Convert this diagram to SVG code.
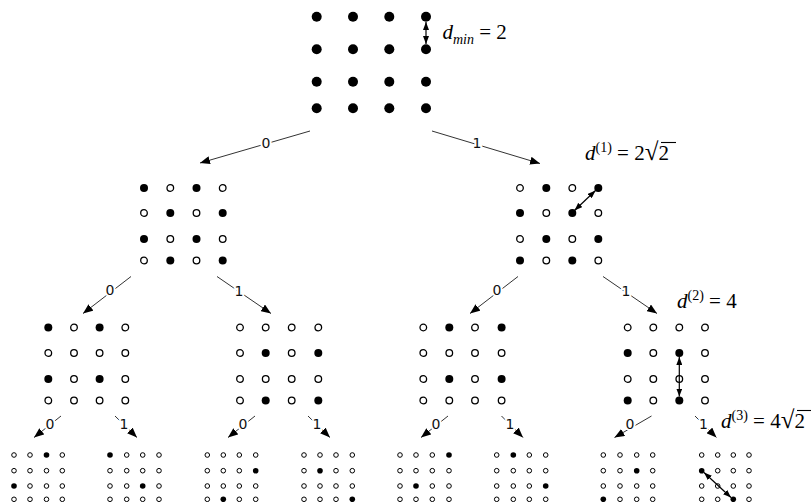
<svg xmlns="http://www.w3.org/2000/svg" xmlns:xlink="http://www.w3.org/1999/xlink" width="811" height="502" viewBox="0 0 811 502">
  <style>
    .f0 { fill: #000; }
    .f1 { fill: #000; }
    .o1 { fill: #fff; stroke: #000; stroke-width: 1.3; }
    .f3 { fill: #000; }
    .o3 { fill: #fff; stroke: #000; stroke-width: 1; }
    .edge { fill: none; stroke: #333; stroke-width: 1; }
    .dist { fill: none; stroke: #000; stroke-width: 1.2; }
    .bit { font-family: "DejaVu Sans", "Liberation Sans", sans-serif; font-size: 14px; fill: #111;
           stroke: #fff; stroke-width: 4; paint-order: stroke; text-anchor: middle; }
    .math { font-family: "Liberation Serif", "Times New Roman", serif; font-size: 21px; fill: #000; }
    .it { font-style: italic; }
    .rad { font-size: 25px; }
    .bar { stroke: #000; stroke-width: 1.1; }
  </style>
  <defs>
    <marker id="head" viewBox="0 0 10 8" refX="10" refY="4" markerWidth="10" markerHeight="8" markerUnits="userSpaceOnUse" orient="auto">
      <path d="M0,0 L10,4 L0,8 Z" fill="#000"/>
    </marker>
    <marker id="dh" viewBox="0 0 8 6" refX="8" refY="3" markerWidth="8" markerHeight="6" markerUnits="userSpaceOnUse" orient="auto-start-reverse">
      <path d="M0,0 L8,3 L0,6 Z" fill="#000"/>
    </marker>
  </defs>

  <!-- level 0: full 16-point constellation -->
  <g id="set-root">
    <circle class="f0" cx="316.7" cy="16.7" r="5"/><circle class="f0" cx="353" cy="16.7" r="5"/><circle class="f0" cx="389.3" cy="16.7" r="5"/><circle class="f0" cx="426" cy="16.7" r="5"/>
    <circle class="f0" cx="316.7" cy="49.3" r="5"/><circle class="f0" cx="353" cy="49.3" r="5"/><circle class="f0" cx="389.3" cy="49.3" r="5"/><circle class="f0" cx="426" cy="49.3" r="5"/>
    <circle class="f0" cx="316.7" cy="81.7" r="5"/><circle class="f0" cx="353" cy="81.7" r="5"/><circle class="f0" cx="389.3" cy="81.7" r="5"/><circle class="f0" cx="426" cy="81.7" r="5"/>
    <circle class="f0" cx="316.7" cy="108.3" r="5"/><circle class="f0" cx="353" cy="108.3" r="5"/><circle class="f0" cx="389.3" cy="108.3" r="5"/><circle class="f0" cx="426" cy="108.3" r="5"/>
  </g>

  <!-- level 1 -->
  <g id="set-0" transform="translate(144,188)">
    <circle class="f1" cx="0" cy="0" r="4"/><circle class="o1" cx="26.3" cy="0" r="3.3"/><circle class="f1" cx="52.5" cy="0" r="4"/><circle class="o1" cx="78.7" cy="0" r="3.3"/>
    <circle class="o1" cx="0" cy="25" r="3.3"/><circle class="f1" cx="26.3" cy="25" r="4"/><circle class="o1" cx="52.5" cy="25" r="3.3"/><circle class="f1" cx="78.7" cy="25" r="4"/>
    <circle class="f1" cx="0" cy="51" r="4"/><circle class="o1" cx="26.3" cy="51" r="3.3"/><circle class="f1" cx="52.5" cy="51" r="4"/><circle class="o1" cx="78.7" cy="51" r="3.3"/>
    <circle class="o1" cx="0" cy="72.5" r="3.3"/><circle class="f1" cx="26.3" cy="72.5" r="4"/><circle class="o1" cx="52.5" cy="72.5" r="3.3"/><circle class="f1" cx="78.7" cy="72.5" r="4"/>
  </g>
  <g id="set-1" transform="translate(520,188)">
    <circle class="o1" cx="0" cy="0" r="3.3"/><circle class="f1" cx="26.3" cy="0" r="4"/><circle class="o1" cx="52.3" cy="0" r="3.3"/><circle class="f1" cx="78.3" cy="0" r="4"/>
    <circle class="f1" cx="0" cy="25" r="4"/><circle class="o1" cx="26.3" cy="25" r="3.3"/><circle class="f1" cx="52.3" cy="25" r="4"/><circle class="o1" cx="78.3" cy="25" r="3.3"/>
    <circle class="o1" cx="0" cy="51" r="3.3"/><circle class="f1" cx="26.3" cy="51" r="4"/><circle class="o1" cx="52.3" cy="51" r="3.3"/><circle class="f1" cx="78.3" cy="51" r="4"/>
    <circle class="f1" cx="0" cy="72.5" r="4"/><circle class="o1" cx="26.3" cy="72.5" r="3.3"/><circle class="f1" cx="52.3" cy="72.5" r="4"/><circle class="o1" cx="78.3" cy="72.5" r="3.3"/>
  </g>

  <!-- level 2 -->
  <g id="set-00" transform="translate(48.3,327.5)">
    <circle class="f1" cx="0" cy="0" r="4"/><circle class="o1" cx="25.7" cy="0" r="3.3"/><circle class="f1" cx="51.3" cy="0" r="4"/><circle class="o1" cx="77" cy="0" r="3.3"/>
    <circle class="o1" cx="0" cy="25.5" r="3.3"/><circle class="o1" cx="25.7" cy="25.5" r="3.3"/><circle class="o1" cx="51.3" cy="25.5" r="3.3"/><circle class="o1" cx="77" cy="25.5" r="3.3"/>
    <circle class="f1" cx="0" cy="51.5" r="4"/><circle class="o1" cx="25.7" cy="51.5" r="3.3"/><circle class="f1" cx="51.3" cy="51.5" r="4"/><circle class="o1" cx="77" cy="51.5" r="3.3"/>
    <circle class="o1" cx="0" cy="73" r="3.3"/><circle class="o1" cx="25.7" cy="73" r="3.3"/><circle class="o1" cx="51.3" cy="73" r="3.3"/><circle class="o1" cx="77" cy="73" r="3.3"/>
  </g>
  <g id="set-01" transform="translate(240,327.5)">
    <circle class="o1" cx="0" cy="0" r="3.3"/><circle class="o1" cx="25.7" cy="0" r="3.3"/><circle class="o1" cx="51.7" cy="0" r="3.3"/><circle class="o1" cx="78.3" cy="0" r="3.3"/>
    <circle class="o1" cx="0" cy="25.5" r="3.3"/><circle class="f1" cx="25.7" cy="25.5" r="4"/><circle class="o1" cx="51.7" cy="25.5" r="3.3"/><circle class="f1" cx="78.3" cy="25.5" r="4"/>
    <circle class="o1" cx="0" cy="51.5" r="3.3"/><circle class="o1" cx="25.7" cy="51.5" r="3.3"/><circle class="o1" cx="51.7" cy="51.5" r="3.3"/><circle class="o1" cx="78.3" cy="51.5" r="3.3"/>
    <circle class="o1" cx="0" cy="73" r="3.3"/><circle class="f1" cx="25.7" cy="73" r="4"/><circle class="o1" cx="51.7" cy="73" r="3.3"/><circle class="f1" cx="78.3" cy="73" r="4"/>
  </g>
  <g id="set-10" transform="translate(423.3,327.5)">
    <circle class="o1" cx="0" cy="0" r="3.3"/><circle class="f1" cx="26" cy="0" r="4"/><circle class="o1" cx="51.7" cy="0" r="3.3"/><circle class="f1" cx="78.3" cy="0" r="4"/>
    <circle class="o1" cx="0" cy="25.5" r="3.3"/><circle class="o1" cx="26" cy="25.5" r="3.3"/><circle class="o1" cx="51.7" cy="25.5" r="3.3"/><circle class="o1" cx="78.3" cy="25.5" r="3.3"/>
    <circle class="o1" cx="0" cy="51.5" r="3.3"/><circle class="f1" cx="26" cy="51.5" r="4"/><circle class="o1" cx="51.7" cy="51.5" r="3.3"/><circle class="f1" cx="78.3" cy="51.5" r="4"/>
    <circle class="o1" cx="0" cy="73" r="3.3"/><circle class="o1" cx="26" cy="73" r="3.3"/><circle class="o1" cx="51.7" cy="73" r="3.3"/><circle class="o1" cx="78.3" cy="73" r="3.3"/>
  </g>
  <g id="set-11" transform="translate(627.7,327.5)">
    <circle class="o1" cx="0" cy="0" r="3.3"/><circle class="o1" cx="25.6" cy="0" r="3.3"/><circle class="o1" cx="51.6" cy="0" r="3.3"/><circle class="o1" cx="77.3" cy="0" r="3.3"/>
    <circle class="f1" cx="0" cy="25.5" r="4"/><circle class="o1" cx="25.6" cy="25.5" r="3.3"/><circle class="f1" cx="51.6" cy="25.5" r="4"/><circle class="o1" cx="77.3" cy="25.5" r="3.3"/>
    <circle class="o1" cx="0" cy="51.5" r="3.3"/><circle class="o1" cx="25.6" cy="51.5" r="3.3"/><circle class="o1" cx="51.6" cy="51.5" r="3.3"/><circle class="o1" cx="77.3" cy="51.5" r="3.3"/>
    <circle class="f1" cx="0" cy="73" r="4"/><circle class="o1" cx="25.6" cy="73" r="3.3"/><circle class="f1" cx="51.6" cy="73" r="4"/><circle class="o1" cx="77.3" cy="73" r="3.3"/>
  </g>

  <!-- level 3 -->
  <g id="set-000" transform="translate(14,455)">
    <circle class="o3" cx="0" cy="0" r="2.3"/><circle class="o3" cx="16" cy="0" r="2.3"/><circle class="f3" cx="32.5" cy="0" r="2.8"/><circle class="o3" cx="48.3" cy="0" r="2.3"/>
    <circle class="o3" cx="0" cy="15.7" r="2.3"/><circle class="o3" cx="16" cy="15.7" r="2.3"/><circle class="o3" cx="32.5" cy="15.7" r="2.3"/><circle class="o3" cx="48.3" cy="15.7" r="2.3"/>
    <circle class="f3" cx="0" cy="31" r="2.8"/><circle class="o3" cx="16" cy="31" r="2.3"/><circle class="o3" cx="32.5" cy="31" r="2.3"/><circle class="o3" cx="48.3" cy="31" r="2.3"/>
    <circle class="o3" cx="0" cy="44.3" r="2.3"/><circle class="o3" cx="16" cy="44.3" r="2.3"/><circle class="o3" cx="32.5" cy="44.3" r="2.3"/><circle class="o3" cx="48.3" cy="44.3" r="2.3"/>
  </g>
  <g id="set-001" transform="translate(110,455)">
    <circle class="f3" cx="0" cy="0" r="2.8"/><circle class="o3" cx="16.7" cy="0" r="2.3"/><circle class="o3" cx="32.7" cy="0" r="2.3"/><circle class="o3" cx="49" cy="0" r="2.3"/>
    <circle class="o3" cx="0" cy="15.7" r="2.3"/><circle class="o3" cx="16.7" cy="15.7" r="2.3"/><circle class="o3" cx="32.7" cy="15.7" r="2.3"/><circle class="o3" cx="49" cy="15.7" r="2.3"/>
    <circle class="o3" cx="0" cy="31" r="2.3"/><circle class="o3" cx="16.7" cy="31" r="2.3"/><circle class="f3" cx="32.7" cy="31" r="2.8"/><circle class="o3" cx="49" cy="31" r="2.3"/>
    <circle class="o3" cx="0" cy="44.3" r="2.3"/><circle class="o3" cx="16.7" cy="44.3" r="2.3"/><circle class="o3" cx="32.7" cy="44.3" r="2.3"/><circle class="o3" cx="49" cy="44.3" r="2.3"/>
  </g>
  <g id="set-010" transform="translate(207.3,455)">
    <circle class="o3" cx="0" cy="0" r="2.3"/><circle class="o3" cx="16" cy="0" r="2.3"/><circle class="o3" cx="32" cy="0" r="2.3"/><circle class="o3" cx="48.4" cy="0" r="2.3"/>
    <circle class="o3" cx="0" cy="15.7" r="2.3"/><circle class="o3" cx="16" cy="15.7" r="2.3"/><circle class="o3" cx="32" cy="15.7" r="2.3"/><circle class="f3" cx="48.4" cy="15.7" r="2.8"/>
    <circle class="o3" cx="0" cy="31" r="2.3"/><circle class="o3" cx="16" cy="31" r="2.3"/><circle class="o3" cx="32" cy="31" r="2.3"/><circle class="o3" cx="48.4" cy="31" r="2.3"/>
    <circle class="o3" cx="0" cy="44.3" r="2.3"/><circle class="f3" cx="16" cy="44.3" r="2.8"/><circle class="o3" cx="32" cy="44.3" r="2.3"/><circle class="o3" cx="48.4" cy="44.3" r="2.3"/>
  </g>
  <g id="set-011" transform="translate(304,455)">
    <circle class="o3" cx="0" cy="0" r="2.3"/><circle class="o3" cx="16" cy="0" r="2.3"/><circle class="o3" cx="32" cy="0" r="2.3"/><circle class="o3" cx="48.3" cy="0" r="2.3"/>
    <circle class="o3" cx="0" cy="15.7" r="2.3"/><circle class="f3" cx="16" cy="15.7" r="2.8"/><circle class="o3" cx="32" cy="15.7" r="2.3"/><circle class="o3" cx="48.3" cy="15.7" r="2.3"/>
    <circle class="o3" cx="0" cy="31" r="2.3"/><circle class="o3" cx="16" cy="31" r="2.3"/><circle class="o3" cx="32" cy="31" r="2.3"/><circle class="o3" cx="48.3" cy="31" r="2.3"/>
    <circle class="o3" cx="0" cy="44.3" r="2.3"/><circle class="o3" cx="16" cy="44.3" r="2.3"/><circle class="o3" cx="32" cy="44.3" r="2.3"/><circle class="f3" cx="48.3" cy="44.3" r="2.8"/>
  </g>
  <g id="set-100" transform="translate(400,455)">
    <circle class="o3" cx="0" cy="0" r="2.3"/><circle class="o3" cx="16" cy="0" r="2.3"/><circle class="o3" cx="32.3" cy="0" r="2.3"/><circle class="f3" cx="49" cy="0" r="2.8"/>
    <circle class="o3" cx="0" cy="15.7" r="2.3"/><circle class="o3" cx="16" cy="15.7" r="2.3"/><circle class="o3" cx="32.3" cy="15.7" r="2.3"/><circle class="o3" cx="49" cy="15.7" r="2.3"/>
    <circle class="o3" cx="0" cy="31" r="2.3"/><circle class="f3" cx="16" cy="31" r="2.8"/><circle class="o3" cx="32.3" cy="31" r="2.3"/><circle class="o3" cx="49" cy="31" r="2.3"/>
    <circle class="o3" cx="0" cy="44.3" r="2.3"/><circle class="o3" cx="16" cy="44.3" r="2.3"/><circle class="o3" cx="32.3" cy="44.3" r="2.3"/><circle class="o3" cx="49" cy="44.3" r="2.3"/>
  </g>
  <g id="set-101" transform="translate(496.7,455)">
    <circle class="o3" cx="0" cy="0" r="2.3"/><circle class="f3" cx="16.6" cy="0" r="2.8"/><circle class="o3" cx="32.6" cy="0" r="2.3"/><circle class="o3" cx="49" cy="0" r="2.3"/>
    <circle class="o3" cx="0" cy="15.7" r="2.3"/><circle class="o3" cx="16.6" cy="15.7" r="2.3"/><circle class="o3" cx="32.6" cy="15.7" r="2.3"/><circle class="o3" cx="49" cy="15.7" r="2.3"/>
    <circle class="o3" cx="0" cy="31" r="2.3"/><circle class="o3" cx="16.6" cy="31" r="2.3"/><circle class="o3" cx="32.6" cy="31" r="2.3"/><circle class="f3" cx="49" cy="31" r="2.8"/>
    <circle class="o3" cx="0" cy="44.3" r="2.3"/><circle class="o3" cx="16.6" cy="44.3" r="2.3"/><circle class="o3" cx="32.6" cy="44.3" r="2.3"/><circle class="o3" cx="49" cy="44.3" r="2.3"/>
  </g>
  <g id="set-110" transform="translate(603.3,455)">
    <circle class="o3" cx="0" cy="0" r="2.3"/><circle class="o3" cx="16.7" cy="0" r="2.3"/><circle class="o3" cx="33.4" cy="0" r="2.3"/><circle class="o3" cx="49.4" cy="0" r="2.3"/>
    <circle class="o3" cx="0" cy="15.7" r="2.3"/><circle class="o3" cx="16.7" cy="15.7" r="2.3"/><circle class="f3" cx="33.4" cy="15.7" r="2.8"/><circle class="o3" cx="49.4" cy="15.7" r="2.3"/>
    <circle class="o3" cx="0" cy="31" r="2.3"/><circle class="o3" cx="16.7" cy="31" r="2.3"/><circle class="o3" cx="33.4" cy="31" r="2.3"/><circle class="o3" cx="49.4" cy="31" r="2.3"/>
    <circle class="f3" cx="0" cy="44.3" r="2.8"/><circle class="o3" cx="16.7" cy="44.3" r="2.3"/><circle class="o3" cx="33.4" cy="44.3" r="2.3"/><circle class="o3" cx="49.4" cy="44.3" r="2.3"/>
  </g>
  <g id="set-111" transform="translate(701.7,455)">
    <circle class="o3" cx="0" cy="0" r="2.3"/><circle class="o3" cx="16" cy="0" r="2.3"/><circle class="o3" cx="31.6" cy="0" r="2.3"/><circle class="o3" cx="47.3" cy="0" r="2.3"/>
    <circle class="f3" cx="0" cy="15.7" r="2.8"/><circle class="o3" cx="16" cy="15.7" r="2.3"/><circle class="o3" cx="31.6" cy="15.7" r="2.3"/><circle class="o3" cx="47.3" cy="15.7" r="2.3"/>
    <circle class="o3" cx="0" cy="31" r="2.3"/><circle class="o3" cx="16" cy="31" r="2.3"/><circle class="o3" cx="31.6" cy="31" r="2.3"/><circle class="o3" cx="47.3" cy="31" r="2.3"/>
    <circle class="o3" cx="0" cy="44.3" r="2.3"/><circle class="o3" cx="16" cy="44.3" r="2.3"/><circle class="f3" cx="31.6" cy="44.3" r="2.8"/><circle class="o3" cx="47.3" cy="44.3" r="2.3"/>
  </g>

  <!-- partition branches with their bit labels -->
  <g id="connectors">
    <line class="edge" x1="310" y1="131" x2="200" y2="163" marker-end="url(#head)"/>
    <line class="edge" x1="432" y1="131" x2="540" y2="163.5" marker-end="url(#head)"/>

    <line class="edge" x1="131" y1="276.5" x2="83" y2="313.5" marker-end="url(#head)"/>
    <line class="edge" x1="217" y1="276.5" x2="271" y2="313.5" marker-end="url(#head)"/>
    <line class="edge" x1="518" y1="276.5" x2="470" y2="313.5" marker-end="url(#head)"/>
    <line class="edge" x1="603" y1="276.5" x2="657" y2="313.5" marker-end="url(#head)"/>

    <line class="edge" x1="61" y1="416" x2="34" y2="437.5" marker-end="url(#head)"/>
    <line class="edge" x1="115" y1="416" x2="137" y2="437.5" marker-end="url(#head)"/>
    <line class="edge" x1="255" y1="416" x2="228" y2="437.5" marker-end="url(#head)"/>
    <line class="edge" x1="308" y1="416" x2="330" y2="437.5" marker-end="url(#head)"/>
    <line class="edge" x1="448" y1="416" x2="421" y2="437.5" marker-end="url(#head)"/>
    <line class="edge" x1="501.5" y1="416" x2="523" y2="437.5" marker-end="url(#head)"/>
    <line class="edge" x1="651.5" y1="416" x2="614.5" y2="437.5" marker-end="url(#head)"/>
    <line class="edge" x1="695" y1="416" x2="716.5" y2="437.5" marker-end="url(#head)"/>

    <text class="bit" x="266" y="148">0</text>
    <text class="bit" x="477" y="148">1</text>
    <text class="bit" x="110" y="295">0</text>
    <text class="bit" x="239" y="296">1</text>
    <text class="bit" x="497" y="295">0</text>
    <text class="bit" x="626" y="296">1</text>
    <text class="bit" x="50" y="429">0</text>
    <text class="bit" x="124" y="429">1</text>
    <text class="bit" x="243" y="429">0</text>
    <text class="bit" x="317" y="429">1</text>
    <text class="bit" x="436" y="429">0</text>
    <text class="bit" x="510" y="429">1</text>
    <text class="bit" x="630" y="429">0</text>
    <text class="bit" x="703.5" y="429">1</text>
  </g>

  <!-- minimum distance markers -->
  <g id="distances">
    <line class="dist" x1="426" y1="22" x2="426" y2="44" marker-start="url(#dh)" marker-end="url(#dh)"/>
    <line class="dist" x1="574.5" y1="210.5" x2="595.5" y2="190.5" marker-start="url(#dh)" marker-end="url(#dh)"/>
    <line class="dist" x1="679.3" y1="357" x2="679.3" y2="396.5" marker-start="url(#dh)" marker-end="url(#dh)"/>
    <line class="dist" x1="704" y1="472.5" x2="731" y2="497.5" marker-start="url(#dh)" marker-end="url(#dh)"/>
  </g>

  <g id="labels" class="math">
    <text x="442.5" y="39"><tspan class="it">d</tspan><tspan class="it" font-size="14" dy="5">min</tspan><tspan dy="-5"> = 2</tspan></text>
    <text x="585" y="160"><tspan class="it">d</tspan><tspan font-size="14" dy="-8">(1)</tspan><tspan dy="8"> = 2</tspan><tspan class="rad">√</tspan><tspan>2</tspan></text>
    <line class="bar" x1="661" y1="142.5" x2="676" y2="142.5"/>
    <text x="677" y="308"><tspan class="it">d</tspan><tspan font-size="14" dy="-8">(2)</tspan><tspan dy="8"> = 4</tspan></text>
    <text x="721" y="428"><tspan class="it">d</tspan><tspan font-size="14" dy="-8">(3)</tspan><tspan dy="8"> = 4</tspan><tspan class="rad">√</tspan><tspan>2</tspan></text>
    <line class="bar" x1="797" y1="410.5" x2="811" y2="410.5"/>
  </g>
</svg>
